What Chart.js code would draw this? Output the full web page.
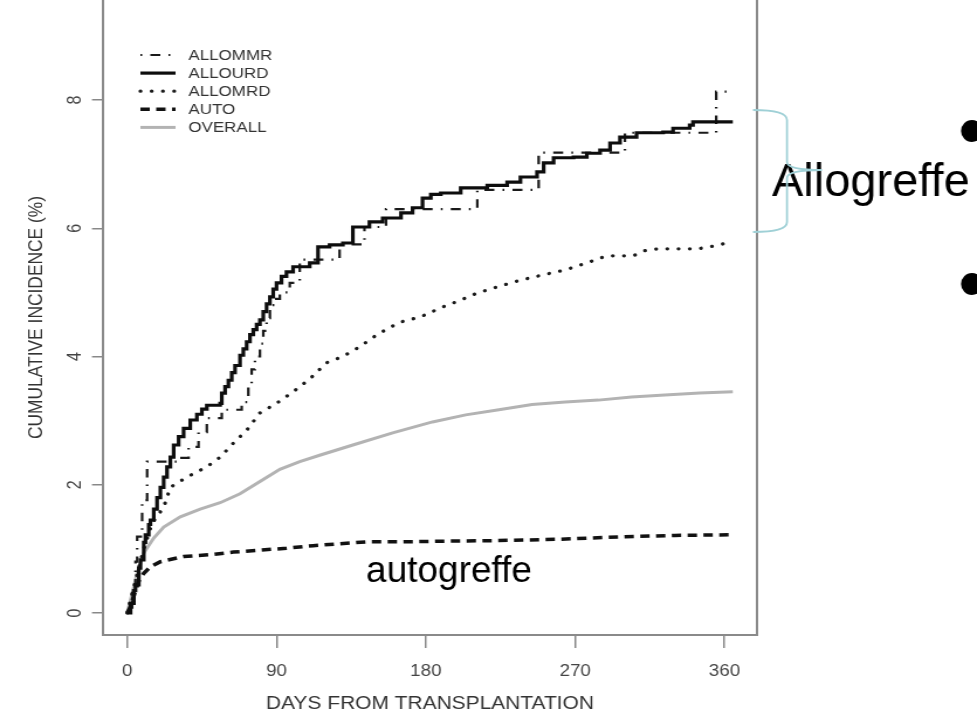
<!DOCTYPE html>
<html>
<head>
<meta charset="utf-8">
<title>Cumulative incidence</title>
<script src="https://cdn.jsdelivr.net/npm/chart.js@4.4.1/dist/chart.umd.min.js"></script>
<style>
    html, body { margin: 0; padding: 0; background: #fff; overflow: hidden; }
    /* the source figure is stretched sideways, so the canvas is too */
    #wrap { width: 835px; height: 715px; transform: scaleX(1.17006); transform-origin: 0 0; }
</style>
</head>
<body>
<div id="wrap"><canvas id="myChart" width="835" height="715"></canvas></div>
<script>
// values (days, cumulative incidence %)
const allommrDays   = [0, 3, 5, 6, 9, 12, 31, 37, 43, 48, 57, 69, 73, 75, 77, 80, 82, 84, 86, 89, 92, 98, 104, 128, 143, 156, 211, 248, 300, 355, 365];
const allommrValues = [0, 0.35, 0.8, 1.19, 1.76, 2.36, 2.42, 2.59, 2.82, 3.04, 3.17, 3.29, 3.56, 3.8, 4.0, 4.2, 4.4, 4.6, 4.8, 4.9, 5.0, 5.15, 5.51, 5.75, 6.02, 6.30, 6.60, 7.18, 7.49, 8.13, 8.13];

const allourdDays   = [0, 2, 4, 5, 7, 8, 10, 11, 13, 14, 16, 18, 20, 22, 24, 26, 28, 31, 34, 38, 42, 45, 48, 56, 57, 59, 61, 63, 65, 68, 70, 72, 74, 76, 78, 80, 82, 84, 86, 88, 90, 93, 96, 100, 110, 115, 122, 130, 136, 146, 154, 165, 172, 178, 183, 189, 201, 217, 229, 237, 247, 251, 257, 269, 277, 285, 291, 297, 307, 323, 329, 339, 341, 365];
const allourdValues = [0, 0.15, 0.35, 0.44, 0.7, 0.83, 1.1, 1.22, 1.38, 1.45, 1.62, 1.8, 1.96, 2.12, 2.28, 2.43, 2.62, 2.75, 2.88, 3.01, 3.1, 3.18, 3.24, 3.27, 3.43, 3.53, 3.63, 3.75, 3.86, 4.02, 4.12, 4.23, 4.34, 4.42, 4.5, 4.57, 4.7, 4.82, 4.93, 5.05, 5.15, 5.25, 5.32, 5.40, 5.46, 5.71, 5.74, 5.77, 6.02, 6.10, 6.16, 6.24, 6.32, 6.47, 6.53, 6.55, 6.63, 6.67, 6.72, 6.80, 6.88, 7.02, 7.10, 7.11, 7.17, 7.22, 7.33, 7.42, 7.49, 7.50, 7.56, 7.61, 7.66, 7.66];

const allomrdDays   = [0, 3, 6, 10, 15, 22, 26, 36, 48, 56, 64, 72, 80, 90, 100, 110, 120, 130, 140, 150, 158, 165, 177, 189, 201, 211, 225, 237, 250, 264, 277, 289, 305, 312, 320, 335, 344, 351, 365];
const allomrdValues = [0, 0.3, 0.6, 1.0, 1.4, 1.65, 1.96, 2.12, 2.28, 2.43, 2.65, 2.85, 3.12, 3.27, 3.45, 3.65, 3.9, 4.0, 4.15, 4.33, 4.45, 4.54, 4.62, 4.76, 4.88, 4.99, 5.10, 5.19, 5.27, 5.35, 5.46, 5.57, 5.57, 5.65, 5.68, 5.68, 5.68, 5.71, 5.79];

const autoDays   = [0, 2, 5, 7, 10, 14, 20, 34, 50, 64, 80, 96, 112, 128, 144, 164, 190, 224, 260, 300, 330, 365];
const autoValues = [0, 0.1, 0.35, 0.5, 0.62, 0.72, 0.80, 0.88, 0.91, 0.95, 0.98, 1.01, 1.05, 1.08, 1.11, 1.11, 1.12, 1.13, 1.15, 1.19, 1.21, 1.22];

const overallDays   = [0, 3, 6, 10, 16, 22, 32, 44, 56, 68, 80, 92, 104, 116, 136, 160, 184, 204, 224, 244, 264, 284, 304, 324, 345, 365];
const overallValues = [0, 0.3, 0.62, 0.94, 1.17, 1.34, 1.50, 1.62, 1.72, 1.86, 2.05, 2.24, 2.36, 2.46, 2.62, 2.81, 2.98, 3.09, 3.17, 3.25, 3.29, 3.32, 3.37, 3.40, 3.43, 3.45];

const seriesNames = ['ALLOMMR', 'ALLOURD', 'ALLOMRD', 'AUTO', 'OVERALL'];
const xTickValues = [0, 90, 180, 270, 360];
const yTickValues = [0, 2, 4, 6, 8];
const xTitle = 'DAYS FROM TRANSPLANTATION';
const yTitle = 'CUMULATIVE INCIDENCE (%)';
const autoNote = 'autogreffe';
const alloNote = 'Allogreffe';

const STRETCH = 977 / 835;
const FONT = '"Liberation Sans", Arial, sans-serif';

function toPoints(days, values) {
    return days.map((d, i) => ({ x: d, y: values[i] }));
}

// legend in the top-left corner of the plot, like the R figure
const cornerLegend = {
    id: 'cornerLegend',
    afterDatasetsDraw(chart) {
        const ctx = chart.ctx;
        ctx.save();
        chart.data.datasets.forEach((ds, i) => {
            const y = 55 + i * 18.1;
            ctx.beginPath();
            ctx.setLineDash(ds.borderDash || []);
            ctx.lineCap = ds.borderCapStyle || 'butt';
            ctx.lineWidth = ds.borderWidth;
            ctx.strokeStyle = ds.borderColor;
            ctx.moveTo(120, y);
            ctx.lineTo(150, y);
            ctx.stroke();
            ctx.setLineDash([]);
            ctx.fillStyle = '#333';
            ctx.font = '14.5px ' + FONT;
            ctx.textBaseline = 'middle';
            ctx.textAlign = 'left';
            ctx.fillText(ds.label, 161, y + 1);
        });
        ctx.restore();
    }
};

// right edge of the box, plus the slide notes drawn over the figure
const slideNotes = {
    id: 'slideNotes',
    afterDraw(chart) {
        const ctx = chart.ctx;
        const area = chart.chartArea;
        ctx.save();
        ctx.strokeStyle = '#8a8a8a';
        ctx.lineWidth = 2;
        ctx.beginPath();
        ctx.moveTo(area.right, area.top);
        ctx.lineTo(area.right, area.bottom + 1);
        ctx.stroke();

        // undo the sideways stretch for the slide text
        ctx.scale(1 / STRETCH, 1);
        ctx.fillStyle = '#000';
        ctx.textAlign = 'left';
        ctx.textBaseline = 'alphabetic';
        ctx.font = '37px ' + FONT;
        ctx.fillText(autoNote, 366, 582);
        ctx.font = '47px ' + FONT;
        ctx.fillText(alloNote, 772, 196);

        ctx.strokeStyle = '#9fd0d6';
        ctx.lineWidth = 2;
        ctx.beginPath();
        ctx.moveTo(753, 110);
        ctx.quadraticCurveTo(787, 110, 787, 120);
        ctx.lineTo(787, 162);
        ctx.quadraticCurveTo(787, 170, 822, 170);
        ctx.quadraticCurveTo(787, 170, 787, 178);
        ctx.lineTo(787, 222);
        ctx.quadraticCurveTo(787, 232, 753, 232);
        ctx.stroke();

        ctx.beginPath();
        ctx.arc(972, 131, 11, 0, Math.PI * 2);
        ctx.arc(972, 284, 11, 0, Math.PI * 2);
        ctx.fill();
        ctx.restore();
    }
};

const ctx = document.getElementById('myChart').getContext('2d');

new Chart(ctx, {
    type: 'line',
    data: {
        datasets: [
            {
                label: seriesNames[0],
                data: toPoints(allommrDays, allommrValues),
                stepped: true,
                borderColor: '#1a1a1a',
                borderWidth: 2.2,
                borderDash: [1.5, 7, 8.5, 7],
                order: 1
            },
            {
                label: seriesNames[1],
                data: toPoints(allourdDays, allourdValues),
                stepped: true,
                borderColor: '#0d0d0d',
                borderWidth: 3.2,
                order: 0
            },
            {
                label: seriesNames[2],
                data: toPoints(allomrdDays, allomrdValues),
                borderColor: '#1a1a1a',
                borderWidth: 3.3,
                borderDash: [0.1, 9.5],
                borderCapStyle: 'round',
                order: 2
            },
            {
                label: seriesNames[3],
                data: toPoints(autoDays, autoValues),
                borderColor: '#111',
                borderWidth: 3.5,
                borderDash: [8, 5.5],
                order: 3
            },
            {
                label: seriesNames[4],
                data: toPoints(overallDays, overallValues),
                borderColor: '#b3b3b3',
                borderWidth: 3,
                order: 4
            }
        ]
    },
    options: {
        responsive: false,
        animation: false,
        devicePixelRatio: 1,
        elements: { point: { radius: 0 }, line: { tension: 0 } },
        layout: { padding: { left: 0, right: 188, top: 0, bottom: 0 } },
        plugins: {
            legend: { display: false },
            tooltip: { enabled: false }
        },
        scales: {
            x: {
                type: 'linear',
                min: -14.6,
                max: 379.6,
                afterBuildTicks: scale => { scale.ticks = xTickValues.map(v => ({ value: v })); },
                afterFit: scale => {
                    scale.height = 80;
                    scale.paddingLeft = 0;
                    scale.paddingRight = 0;
                },
                grid: { drawOnChartArea: false, drawTicks: true, tickLength: 13, color: '#888', lineWidth: 1.5 },
                border: { display: true, color: '#8a8a8a', width: 2 },
                ticks: { color: '#444', font: { family: FONT, size: 16 }, padding: 14, maxRotation: 0, autoSkip: false },
                title: { display: true, text: xTitle, color: '#333', font: { family: FONT, size: 17.9 }, padding: { top: 0, bottom: 0 } }
            },
            y: {
                type: 'linear',
                min: -0.343,
                max: 9.56,
                afterBuildTicks: scale => { scale.ticks = yTickValues.map(v => ({ value: v })); },
                afterFit: scale => {
                    scale.width = 88;
                    scale.paddingTop = 0;
                    scale.paddingBottom = 0;
                },
                grid: { drawOnChartArea: false, drawTicks: true, tickLength: 9.4, color: '#888', lineWidth: 1.5 },
                border: { display: true, color: '#8a8a8a', width: 2 },
                ticks: { color: '#444', font: { family: FONT, size: 16 }, padding: 9.5, minRotation: 90, maxRotation: 90, crossAlign: 'center', autoSkip: false },
                title: { display: true, text: yTitle, color: '#333', font: { family: FONT, size: 17.4 }, padding: { top: 20.5, bottom: 0 } }
            }
        }
    },
    plugins: [cornerLegend, slideNotes]
});
</script>
</body>
</html>
